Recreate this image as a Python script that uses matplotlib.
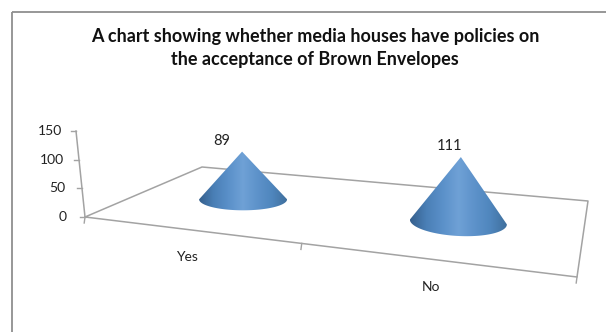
import numpy as np
import matplotlib
matplotlib.use("Agg")
import matplotlib.pyplot as plt
from matplotlib.colors import LinearSegmentedColormap
from matplotlib.patches import PathPatch, Rectangle
from matplotlib.path import Path

categories = ["Yes", "No"]
values = [89, 111]
ticks = [0, 50, 100, 150]
title_lines = ["A chart showing whether media houses have policies on",
               "the acceptance of Brown Envelopes"]

plt.rcParams["font.family"] = ["Lato", "DejaVu Sans"]

# floor corners of the 3d plot area, in canvas pixels
front_left = np.array([85.0, 217.0])
front_right = np.array([577.0, 277.0])
back_left = np.array([202.0, 167.0])
back_right = np.array([588.0, 201.0])
wall_top = np.array([76.0, 131.0])
line_col = "#a3a3a3"
text_col = "#222222"

cone_cmap = LinearSegmentedColormap.from_list(
    "cone", ["#355f8c", "#4a7fb6", "#5a90c9", "#6fa1d6", "#5d92ca", "#4f86bd", "#3f6f9d"])


def warp(t, w):
    # foreshortening along the category direction
    return t / (t + w * (1 - t))


def floor(u, v):
    # u runs over the categories (0..n), v goes from front to back (0..1)
    t = u / len(categories)
    front = front_left + (front_right - front_left) * warp(t, 1.27)
    back = back_left + (back_right - back_left) * warp(t, 1.15)
    return front + (back - front) * v


def wall(val):
    return front_left + (wall_top - front_left) * val / ticks[-1]


fig = plt.figure(figsize=(6.06, 3.32), dpi=100)
ax = fig.add_axes([0, 0, 1, 1])
ax.set_xlim(0, 606)
ax.set_ylim(332, 0)
ax.axis("off")

# chart border, runs off the right and bottom of the canvas
ax.add_patch(Rectangle((12, 12), 640, 400, fill=False, ec="#8f8f8f", lw=1.3))

ax.text(315, 36.5, title_lines[0], ha="center", va="center", fontsize=13, fontweight="bold",
        color="#111111")
ax.text(315, 59, title_lines[1], ha="center", va="center", fontsize=13, fontweight="bold",
        color="#111111")

# floor outline
outline = np.array([front_left, back_left, back_right, front_right, front_left])
ax.plot(outline[:, 0], outline[:, 1], color=line_col, lw=1.1)

# value axis on the left wall
w0, w1 = wall(ticks[0]), wall(ticks[-1])
ax.plot([w0[0], w1[0]], [w0[1], w1[1]], color=line_col, lw=1.1)
for t in ticks:
    p = wall(t)
    ax.plot([p[0] - 5, p[0]], [p[1], p[1]], color=line_col, lw=1.0)
    ax.text(p[0] - 14 - (p[0] - w1[0]) * 0.45, p[1], str(t), ha="right",
            va="center", fontsize=10, color=text_col)

# category ticks along the front edge
for i in range(len(categories) + 1):
    p = floor(i, 0)
    ax.plot([p[0], p[0] - 0.8], [p[1], p[1] + 6], color=line_col, lw=1.0)

base_half_widths = [44.0, 48.5]
base_half_heights = [11.0, 14.0]
base_tilt = [0.0, 0.05]
height_scale = [0.93, 1.015]
apex_shift = [-1.0, 2.5]
label_offsets = [(-20, -10.5), (-11, -11)]
px_per_unit = np.linalg.norm(wall_top - front_left) / ticks[-1]

for i, (cat, val) in enumerate(zip(categories, values)):
    c = floor(i + 0.5, 0.55)
    rx, ry = base_half_widths[i], base_half_heights[i]
    apex = np.array([c[0] + apex_shift[i], c[1] - val * px_per_unit * height_scale[i]])

    # silhouette: apex down to the base rim, then round the front of the ellipse
    a = np.linspace(np.pi, 0, 60)
    rim_x = c[0] + rx * np.cos(a)
    rim_y = c[1] + ry * np.sin(a) + base_tilt[i] * rx * np.cos(a)
    verts = [tuple(apex)] + list(zip(rim_x, rim_y)) + [tuple(apex)]
    codes = [Path.MOVETO] + [Path.LINETO] * 60 + [Path.CLOSEPOLY]
    clip = PathPatch(Path(verts, codes), fc="none", ec="none", transform=ax.transData)
    ax.add_patch(clip)

    # shaded side of the cone
    grad = np.linspace(0, 1, 256).reshape(1, -1)
    im = ax.imshow(grad, cmap=cone_cmap, aspect="auto", interpolation="bilinear",
                   extent=(c[0] - rx, c[0] + rx, c[1] + ry + 4, apex[1]), zorder=3)
    im.set_clip_path(clip)

    off = label_offsets[i]
    ax.text(apex[0] + off[0], apex[1] + off[1], str(val), ha="center", va="center",
            fontsize=10.5, color=text_col, zorder=4)

    edge = floor(i + 0.5, 0)
    ax.text(edge[0], edge[1] + 28, cat, ha="center", va="center", fontsize=10, color=text_col)

ax.set_xlim(0, 606)
ax.set_ylim(332, 0)
fig.savefig("out.png", dpi=100)
